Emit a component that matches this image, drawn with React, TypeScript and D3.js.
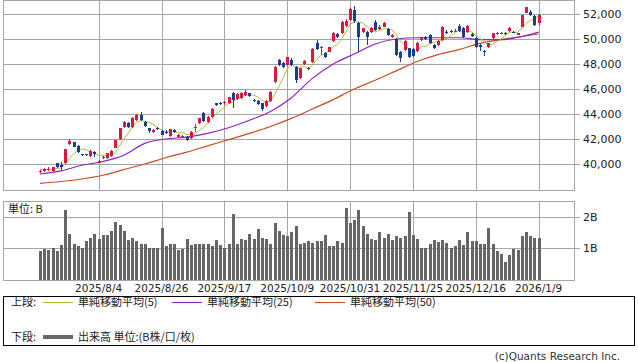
import * as d3 from "d3";

// 日足 OHLC (120 days)
const opens = [
  39350, 39410, 39570, 39410, 40050, 39900, 40050, 41570, 41730, 41440,
  40770, 40770, 40640, 40940, 40110, 40450, 40450, 40640, 41300, 42000,
  42950, 43300, 42950, 43500, 43950, 43400, 42850, 42550, 42900, 42600,
  42550, 42240, 42720, 42130, 42200, 42190, 42050, 42950, 43250, 44050,
  43390, 43790, 44850, 44900, 44900, 44850, 45650, 45170, 45250, 45520,
  45650, 45120, 45060, 44850, 44670, 45070, 46590, 48300, 48110, 47920,
  48320, 47790, 46850, 47970, 47700, 48190, 49700, 49250, 48850, 48990,
  49870, 50370, 50450, 51040, 51520, 52320, 51310, 50590, 50590, 50590,
  51390, 50770, 50990, 50770, 50130, 49970, 48990, 49120, 49250, 49170,
  49070, 49920, 50130, 50320, 49520, 49520, 49920, 50590, 50650, 50650,
  51040, 50850, 50590, 50370, 50050, 49520, 49040, 49390, 50050, 50400,
  50450, 50510, 50670, 50590, 50350, 50990, 52110, 52190, 51840, 51250,
];
const highs = [
  39560, 39700, 39800, 39800, 40100, 40170, 41200, 42000, 41800, 41500,
  40800, 40800, 41100, 41070, 40300, 40650, 40900, 41150, 41950, 42900,
  43450, 43350, 43800, 44000, 44150, 43450, 42900, 42800, 43000, 42700,
  42700, 42800, 42800, 42400, 42350, 42250, 42650, 43170, 43700, 44190,
  43850, 44450, 44900, 45000, 45050, 45400, 45750, 45650, 45780, 45900,
  45700, 45200, 45100, 44900, 45100, 45850, 47850, 48400, 48200, 48600,
  48450, 47850, 47700, 48350, 47800, 49250, 49920, 49440, 48950, 49400,
  50600, 50450, 51450, 51600, 52450, 52640, 51400, 50900, 50650, 50950,
  51500, 51100, 51400, 50850, 50400, 50050, 49050, 49950, 49300, 49250,
  49800, 50200, 50250, 50380, 49600, 49950, 51050, 50700, 50750, 50800,
  51200, 50950, 51150, 50450, 50150, 49600, 49120, 49700, 50500, 50600,
  50600, 50550, 50950, 50650, 50500, 51950, 52600, 52300, 51900, 52000,
];
const lows = [
  39280, 39350, 39450, 39350, 39680, 39500, 39980, 41500, 41350, 40900,
  40650, 40650, 40600, 40590, 40050, 40400, 40400, 40600, 41250, 41950,
  42900, 42900, 42850, 43450, 43450, 42950, 42450, 42450, 42700, 42300,
  42400, 42200, 42500, 42050, 42100, 41850, 42000, 42590, 43200, 43400,
  43300, 43700, 44650, 44750, 44700, 44800, 44450, 45100, 45200, 45450,
  45400, 44950, 44700, 44250, 44600, 45000, 46500, 47850, 47700, 47850,
  47850, 46500, 46800, 47900, 47500, 48100, 49100, 48720, 48450, 48950,
  49800, 50050, 50400, 51000, 51450, 51250, 48990, 50500, 49520, 50500,
  50650, 50700, 50950, 50250, 50050, 48650, 48190, 49050, 48500, 48550,
  49000, 49850, 49900, 49600, 49200, 49450, 49850, 50400, 50450, 50550,
  50600, 50100, 50500, 50150, 49300, 49050, 48640, 49300, 50000, 50350,
  50400, 50300, 50600, 50450, 50300, 50950, 52050, 51850, 51050, 51150,
];
const closes = [
  39480, 39630, 39590, 39730, 39730, 39800, 41170, 41870, 41390, 40960,
  40690, 40700, 41040, 40800, 40260, 40590, 40850, 41070, 41900, 42850,
  43350, 42950, 43700, 43900, 43550, 43000, 42600, 42750, 42800, 42350,
  42500, 42770, 42590, 42320, 42240, 41920, 42590, 42990, 43650, 43470,
  43790, 44370, 44720, 44870, 44950, 45330, 45120, 45600, 45710, 45790,
  45440, 45020, 44800, 44370, 45070, 45790, 47790, 47920, 47790, 48530,
  47920, 46720, 47650, 48240, 47600, 49170, 49170, 49370, 48530, 49330,
  50510, 50130, 51390, 51470, 52370, 51470, 50190, 50850, 50190, 50850,
  50720, 50990, 51310, 50320, 50320, 48720, 48450, 49870, 48590, 48640,
  49700, 50130, 49970, 49650, 49250, 49870, 50990, 50510, 50560, 50670,
  50670, 50190, 51040, 50240, 49390, 49390, 48940, 49650, 50450, 50500,
  50510, 50370, 50850, 50510, 50450, 51920, 52530, 51920, 51120, 51920,
];
// closes of the 4 days before the window (for the 5-day average)
const priorCloses = [39700, 39550, 39500, 39600];

// 出来高 (B)
const volumes = [
  0.91, 0.98, 0.95, 1.0, 0.91, 1.11, 2.24, 1.48, 1.16, 1.07,
  1.0, 1.24, 1.35, 1.48, 1.3, 1.45, 1.45, 1.56, 1.84, 1.77,
  1.56, 1.27, 1.35, 1.24, 1.16, 1.16, 1.03, 1.0, 1.0, 1.65,
  1.07, 1.13, 1.13, 0.95, 0.98, 1.3, 1.11, 1.16, 1.16, 1.16,
  1.16, 1.07, 1.27, 1.11, 1.03, 1.13, 2.1, 1.16, 1.32, 1.27,
  1.48, 1.3, 1.62, 1.35, 1.3, 1.16, 1.81, 1.56, 1.43, 1.4,
  1.52, 1.72, 1.16, 1.19, 1.24, 1.19, 1.24, 1.24, 1.43, 1.07,
  1.07, 1.24, 1.19, 2.32, 1.81, 1.91, 2.24, 1.72, 1.48, 1.3,
  1.27, 1.52, 1.35, 1.48, 1.27, 1.4, 1.35, 1.4, 2.18, 1.45,
  1.32, 1.0, 1.0, 1.16, 1.27, 1.21, 1.27, 1.19, 1.03, 1.07,
  1.27, 1.11, 1.52, 1.24, 1.24, 1.14, 1.16, 1.65, 1.14, 0.91,
  0.82, 0.55, 0.78, 0.98, 0.95, 1.4, 1.52, 1.4, 1.35, 1.34,
];

// moving averages at every 5th day
const maIdx = [0, 5, 10, 15, 20, 25, 30, 35, 40, 45, 50, 55, 60, 65, 70, 75, 80, 85, 90, 95, 100, 105, 110, 115, 119];
const ma25 = [
  39200, 39450, 39900, 40200, 40700, 41650, 42000, 42150, 42450, 42900,
  43500, 44200, 45300, 46850, 48000, 48800, 49600, 50000, 50100, 50100,
  50100, 49950, 49950, 50200, 50550,
];
const ma50 = [
  38450, 38600, 38800, 39100, 39550, 40000, 40500, 40950, 41450, 41950,
  42450, 43000, 43650, 44400, 45150, 46000, 46700, 47450, 48200, 48750,
  49150, 49650, 49950, 50200, 50400,
];

const dateLabels = ["2025/8/4", "2025/8/26", "2025/9/17", "2025/10/9", "2025/10/31", "2025/11/25", "2025/12/16", "2026/1/9"];
const dateIdx = [14, 29, 44, 59, 74, 89, 104, 119];
const priceTicks = [40000, 42000, 44000, 46000, 48000, 50000, 52000];
const volTicks = [1, 2];

const RED = "#e0173c";
const BLUE = "#1b3c8f";
const GRID = "#a6a6a6";
const C5 = "#a9bf3a";
const C25 = "#8a22c8";
const C50 = "#cf4a22";
const NUM_FONT = "DejaVu Sans, sans-serif";
const JP_FONT = "'Noto Sans CJK JP', sans-serif";

export default function App() {
  const left = 3, right = 574;
  const x = d3.scaleLinear().domain([0, 119]).range([40, 538.6]);
  const y = d3.scaleLinear().domain([37920, 53040]).range([190, 1]);
  const yv = d3.scaleLinear().domain([0, 2.532]).range([279.5, 201]);

  const allCloses = priorCloses.concat(closes);
  const ma5 = closes.map((_, i) => d3.mean(allCloses.slice(i, i + 5)) as number);

  const line5 = d3.line<number>().x((_, i) => x(i)).y((d) => y(d));
  const lineS = d3
    .line<number>()
    .x((_, i) => x(maIdx[i]))
    .y((d) => y(d))
    .curve(d3.curveMonotoneX);

  const px = (i: number) => Math.round(x(i));

  return (
    <svg width={638} height={362} style={{ position: "absolute", left: 0, top: 0, background: "#fff" }}>
      {/* price panel */}
      <g shapeRendering="crispEdges">
        {priceTicks.map((t) => (
          <line key={t} x1={left} x2={right + 6} y1={Math.round(y(t)) + 0.5} y2={Math.round(y(t)) + 0.5} stroke={GRID} />
        ))}
        {dateIdx.map((d) => (
          <line key={d} x1={px(d) + 0.5} x2={px(d) + 0.5} y1={1} y2={190} stroke={GRID} />
        ))}
        <rect x={left + 0.5} y={0.5} width={right - left} height={190} fill="none" stroke={GRID} />
      </g>
      {priceTicks.map((t) => (
        <text key={t} x={583} y={y(t) + 4} fontFamily={NUM_FONT} fontSize={11} fill="#222">
          {d3.format(",")(t)}
        </text>
      ))}

      {/* moving averages */}
      <path d={lineS(ma50) || ""} fill="none" stroke={C50} strokeWidth={1.2} />
      <path d={lineS(ma25) || ""} fill="none" stroke={C25} strokeWidth={1.2} />
      <path d={line5(ma5) || ""} fill="none" stroke={C5} strokeWidth={1} />

      {/* candles */}
      <g shapeRendering="crispEdges">
        {closes.map((c, i) => {
          const o = opens[i];
          const col = c >= o ? RED : BLUE;
          const top = Math.round(y(Math.max(o, c)));
          const bot = Math.round(y(Math.min(o, c)));
          return (
            <g key={i}>
              <line x1={px(i) + 0.5} x2={px(i) + 0.5} y1={y(highs[i])} y2={y(lows[i])} stroke={col} />
              <rect x={px(i) - 1} y={top} width={3} height={Math.max(1, bot - top)} fill={col} />
            </g>
          );
        })}
      </g>

      {/* volume panel */}
      <g shapeRendering="crispEdges">
        {volTicks.map((t) => (
          <line key={t} x1={left} x2={right + 6} y1={Math.round(yv(t)) + 0.5} y2={Math.round(yv(t)) + 0.5} stroke={GRID} />
        ))}
        {dateIdx.map((d) => (
          <line key={d} x1={px(d) + 0.5} x2={px(d) + 0.5} y1={201} y2={280} stroke={GRID} />
        ))}
        {volumes.map((v, i) => (
          <rect key={i} x={px(i) - 1} y={yv(v)} width={3} height={yv(0) - yv(v)} fill="#666" />
        ))}
        <rect x={left + 0.5} y={201.5} width={right - left} height={78.5} fill="none" stroke={GRID} />
      </g>
      {volTicks.map((t) => (
        <text key={t} x={583} y={yv(t) + 4} fontFamily={NUM_FONT} fontSize={11} fill="#222">
          {t + "B"}
        </text>
      ))}
      <text x={8} y={213} fontFamily={JP_FONT} fontSize={11} fill="#222">
        単位: B
      </text>

      {/* date axis */}
      {dateIdx.map((d, k) => (
        <text key={d} x={x(d)} y={292} textAnchor="middle" fontFamily={NUM_FONT} fontSize={10.5} fill="#222">
          {dateLabels[k]}
        </text>
      ))}

      {/* legend */}
      <rect x={3.5} y={296.5} width={631} height={49} fill="none" stroke="#000" shapeRendering="crispEdges" />
      <g fontFamily={JP_FONT} fontSize={11} fill="#222">
        <text x={11} y={306}>上段:</text>
        <line x1={43} x2={73} y1={302.5} y2={302.5} stroke={C5} />
        <text x={78} y={306}>単純移動平均(5)</text>
        <line x1={172} x2={202} y1={302.5} y2={302.5} stroke={C25} />
        <text x={207} y={306}>単純移動平均(25)</text>
        <line x1={315} x2={345} y1={302.5} y2={302.5} stroke={C50} />
        <text x={350} y={306}>単純移動平均(50)</text>
        <text x={11} y={341}>下段:</text>
        <line x1={43} x2={73} y1={337} y2={337} stroke="#666" strokeWidth={4} />
        <text x={78} y={341}>出来高 単位:(B株/口/枚)</text>
      </g>
      <text x={620} y={360} textAnchor="end" fontFamily={NUM_FONT} fontSize={10.5} fill="#333">
        (c)Quants Research Inc.
      </text>
    </svg>
  );
}
